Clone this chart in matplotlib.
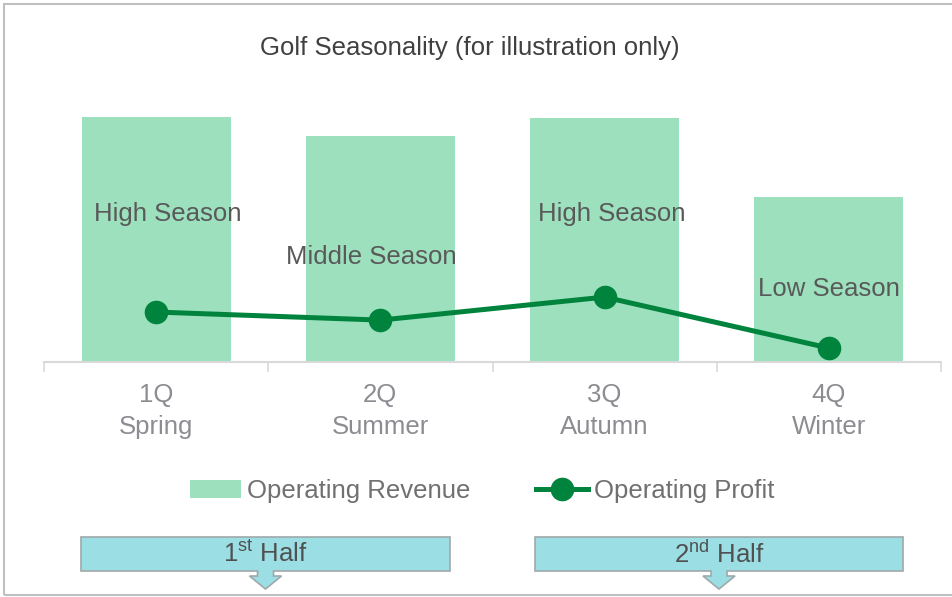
import numpy as np
import matplotlib
matplotlib.use("Agg")
import matplotlib.pyplot as plt
from matplotlib.patches import Rectangle, Polygon

plt.rcParams['font.family'] = ['Liberation Sans', 'DejaVu Sans']
plt.rcParams['mathtext.fontset'] = 'custom'
plt.rcParams['mathtext.rm'] = 'Liberation Sans'

# data (arbitrary units)
quarters = ["1Q\nSpring", "2Q\nSummer", "3Q\nAutumn", "4Q\nWinter"]
revenue = [100, 92.2, 99.6, 67.3]
profit = [20.4, 17.1, 26.5, 5.7]
seasons = ["High Season", "Middle Season", "High Season", "Low Season"]
season_x = [0.05, 0.96, 2.03, 3.0]
season_y = [60.5, 43, 60.5, 30]
halves = ["1$^{\\mathrm{st}}$ Half", "2$^{\\mathrm{nd}}$ Half"]

W, H = 952, 597
fig = plt.figure(figsize=(W/100, H/100), dpi=100)

def fx(px):
    return px / W
def fy(py):
    return 1 - py / H

# outer frame
fig.patches.append(Rectangle((fx(4), fy(595)), fx(960) - fx(4), fy(4) - fy(595),
                             transform=fig.transFigure, fill=False, edgecolor='#bfbfbf', lw=1.5))

ax = fig.add_axes([fx(44), fy(362), fx(941) - fx(44), fy(95) - fy(362)])
x = np.arange(len(quarters))
bars = ax.bar(x, revenue, width=0.665, color='#9ce0be', label='Operating Revenue', zorder=2)
line, = ax.plot(x, profit, color='#00843d', lw=3.6, marker='o', markersize=16,
                label='Operating Profit', zorder=3)

for i, s in enumerate(seasons):
    ax.text(season_x[i], season_y[i], s, ha='center', va='center', fontsize=18.5, color='#595959', zorder=4)

ax.set_xlim(-0.5, 3.5)
ax.set_ylim(0, 109)
for sp in ['top', 'right', 'left']:
    ax.spines[sp].set_visible(False)
ax.spines['bottom'].set_color('#d9d9d9')
ax.spines['bottom'].set_linewidth(1.5)
ax.set_yticks([])
ax.set_xticks(x)
ax.set_xticklabels(quarters, fontsize=18.5, color='#8c8c92', linespacing=1.45)
ax.tick_params(axis='x', which='major', length=0, pad=15)
ax.set_xticks(np.arange(-0.5, 4.0, 1.0), minor=True)
ax.tick_params(axis='x', which='minor', length=7, width=1.2, color='#d9d9d9', direction='out')

fig.text(fx(470), fy(48), "Golf Seasonality (for illustration only)", ha='center', va='center',
         fontsize=18.5, color='#404040')

leg = ax.legend(handles=[bars, line], loc='center', bbox_to_anchor=(fx(482), fy(491)),
                bbox_transform=fig.transFigure, ncol=2, frameon=False, fontsize=18.5,
                handlelength=2.0, handletextpad=0.25, columnspacing=2.55)
for t in leg.get_texts():
    t.set_color('#707070')

# half-year boxes with down arrows
boxes = [(81, 450), (535, 903)]
for (l, r), lab in zip(boxes, halves):
    c = (l + r) / 2
    top, bot = 537, 571
    aw, hw, tip = 8, 16, 589
    pts = [(l, top), (r, top), (r, bot), (c + aw, bot), (c + aw, bot + 5), (c + hw, bot + 5),
           (c, tip), (c - hw, bot + 5), (c - aw, bot + 5), (c - aw, bot), (l, bot)]
    fig.patches.append(Polygon([(fx(a), fy(b)) for a, b in pts], closed=True,
                               transform=fig.transFigure, facecolor='#9bdfe5',
                               edgecolor='#a0a8aa', lw=1.2))
    fig.text(fx(c), fy(554), lab, ha='center', va='center', fontsize=18.5, color='#505050')

fig.savefig("out.png", dpi=100)
